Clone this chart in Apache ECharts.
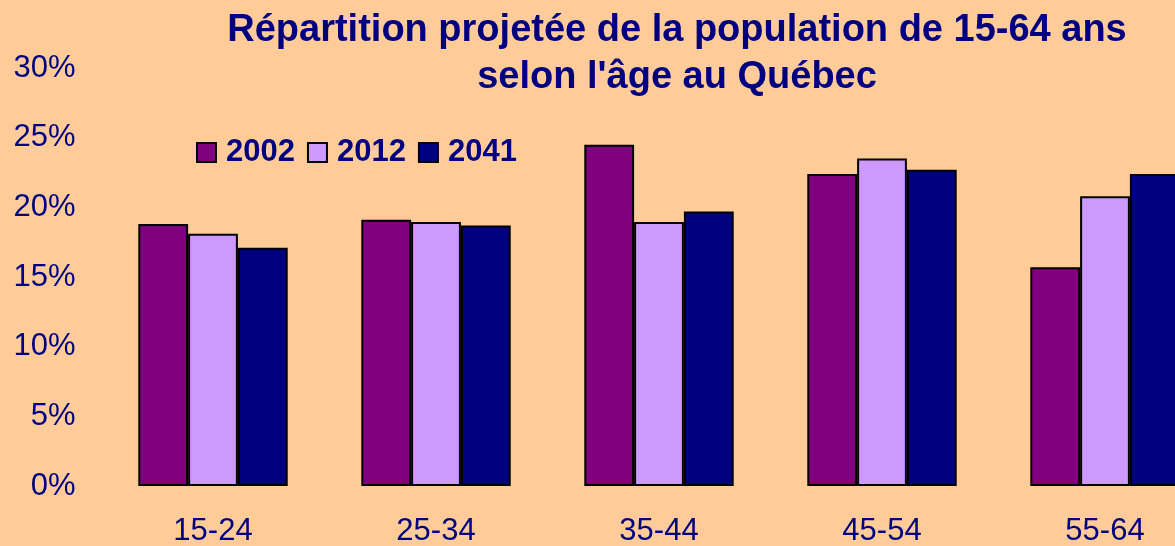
<!DOCTYPE html>
<html>
<head>
<meta charset="utf-8">
<script src="https://cdn.jsdelivr.net/npm/echarts@6/dist/echarts.min.js"></script>
<style>
  html, body { margin: 0; padding: 0; background: #FFCC99; }
  #chart { width: 1175px; height: 546px; }
</style>
</head>
<body>
<div id="chart"></div>
<script>
'use strict';

// tranches d'âge
var ageGroups = ['15-24', '25-34', '35-44', '45-54', '55-64'];
// part de la population (%) par année
var years = ['2002', '2012', '2041'];
var values2002 = [18.8, 19.1, 24.5, 22.4, 15.7];
var values2012 = [18.1, 18.95, 18.95, 23.5, 20.8];
var values2041 = [17.1, 18.7, 19.7, 22.7, 22.4];
var yTicks = [0, 5, 10, 15, 20, 25, 30];

var colors = ['#800080', '#CC99FF', '#000080'];
var textColor = '#000080';
var font = 'Liberation Sans, Arial, sans-serif';

var chart = echarts.init(document.getElementById('chart'));

function makeSeries(name, data, color) {
  return {
    name: name,
    type: 'bar',
    data: data,
    barGap: '0%',
    barCategoryGap: '33%',
    itemStyle: { color: color, borderColor: '#000000', borderWidth: 2 }
  };
}

var option = {
  backgroundColor: '#FFCC99',
  animation: false,
  title: {
    text: 'Répartition projetée de la population de 15-64 ans\nselon l\'âge au Québec',
    left: 672,
    textAlign: 'center',
    top: 2,
    textStyle: {
      color: textColor,
      fontFamily: font,
      fontWeight: 'bold',
      fontSize: 38,
      lineHeight: 47
    }
  },
  legend: {
    data: years,
    left: 196,
    top: 137,
    padding: 0,
    itemWidth: 19,
    itemHeight: 19,
    itemGap: 12,
    icon: 'rect',
    textStyle: {
      color: textColor,
      fontFamily: font,
      fontWeight: 'bold',
      fontSize: 31,
      padding: [0, 0, 0, 5]
    }
  },
  grid: {
    left: 101.5,
    top: 68,
    width: 1115,
    height: 418,
    containLabel: false,
    outerBoundsMode: 'none'
  },
  xAxis: {
    type: 'category',
    data: ageGroups,
    axisLine: { show: false },
    axisTick: { show: false },
    axisLabel: {
      color: textColor,
      fontFamily: font,
      fontSize: 31,
      margin: 30
    }
  },
  yAxis: {
    type: 'value',
    min: yTicks[0],
    max: yTicks[yTicks.length - 1],
    interval: 5,
    splitLine: { show: false },
    axisLine: { show: false },
    axisTick: { show: false },
    axisLabel: {
      color: textColor,
      fontFamily: font,
      fontSize: 31,
      margin: 26,
      formatter: '{value}%'
    }
  },
  series: [
    makeSeries(years[0], values2002, colors[0]),
    makeSeries(years[1], values2012, colors[1]),
    makeSeries(years[2], values2041, colors[2])
  ]
};

chart.setOption(option);
window.onresize = chart.resize;
</script>
</body>
</html>
